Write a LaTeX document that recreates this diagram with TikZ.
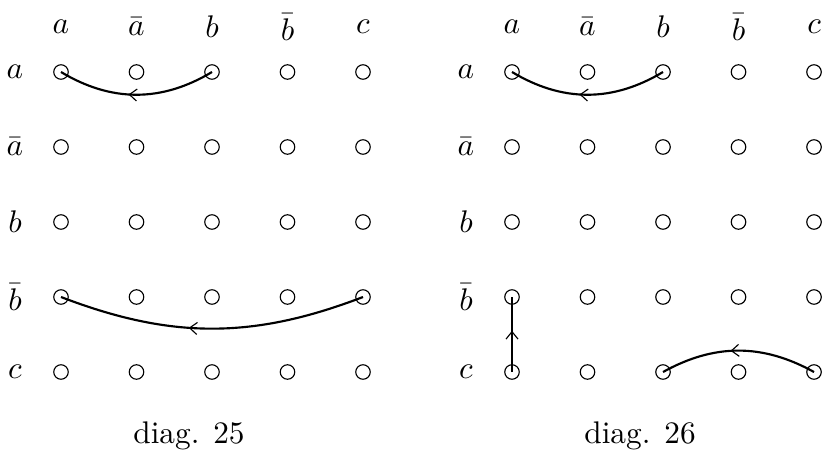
\documentclass[tikz,border=0pt]{standalone}
\usepackage{amsmath}
\usepackage{tikz}
\usetikzlibrary{calc,positioning,arrows.meta,decorations.markings}

\tikzset{
  dot/.style={circle, draw, thin, minimum size=14.5pt*0.35, inner sep=0pt},
  link/.style={line width=0.75pt, postaction={decorate},
    decoration={markings, mark=at position #1 with {\arrow{Straight Barb[length=2.6pt,width=4.2pt,line width=0.4pt]}}}},
  link/.default=0.55
}

\begin{document}
\begin{tikzpicture}[x=0.35pt, y=-0.35pt, font=\fontsize{10.95}{13}\selectfont]

  \useasboundingbox (0,0) rectangle (826,460);

  % two grids, left (L) and right (R)
  \foreach \g/\xo/\xl in {L/61/15, R/512/466} {
    \foreach \lbl [count=\i] in {a,\bar a,b,\bar b,c} {
      \node at ({\xo+75.5*(\i-1)},27) {$\lbl$};
      \node at (\xl,{72+75*(\i-1)}) {$\lbl$};
      \foreach \j in {1,...,5}
        \node[dot] (\g-\i-\j) at ({\xo+75.5*(\j-1)},{72+75*(\i-1)}) {};
    }
  }

  \node (cap25) at (189,436) {diag. 25};
  \node (cap26) at (640,436) {diag. 26};

  \draw[link] (L-1-3.center) to[bend left=31] (L-1-1.center);
  \draw[link=0.575] (L-4-5.center) to[bend left=21] (L-4-1.center);

  \draw[link] (R-1-3.center) to[bend left=31] (R-1-1.center);
  \draw[link] (R-5-1.center) -- (R-4-1.center);
  \draw[link] (R-5-5.center) to[bend right=29] (R-5-3.center);

\end{tikzpicture}
\end{document}
